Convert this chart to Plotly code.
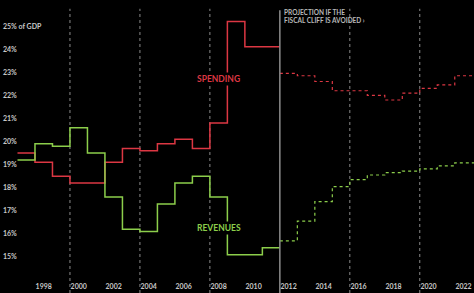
import plotly.graph_objects as go

hist_years = list(range(1997, 2012))
spending_hist = [19.5, 19.1, 18.5, 18.2, 18.2, 19.1, 19.7, 19.6, 19.9, 20.1, 19.7, 20.8, 25.2, 24.1, 24.1]
revenues_hist = [19.2, 19.9, 19.8, 20.6, 19.5, 17.6, 16.2, 16.1, 17.3, 18.2, 18.5, 17.6, 15.1, 15.1, 15.4]
proj_years = list(range(2012, 2023))
spending_proj = [22.95, 22.85, 22.6, 22.2, 22.2, 22.0, 21.8, 22.1, 22.3, 22.45, 22.85]
revenues_proj = [15.7, 16.55, 17.4, 18.05, 18.35, 18.55, 18.65, 18.72, 18.82, 18.95, 19.08]

x_tick_years = list(range(1998, 2023, 2))
y_ticks = [15, 16, 17, 18, 19, 20, 21, 22, 23, 24, 25]
y_tick_text = ["15%", "16%", "17%", "18%", "19%", "20%", "21%", "22%", "23%", "24%", "25% of GDP"]
guide_years = [2000, 2004, 2008, 2016, 2020]
projection_start = 2012

RED = "#dc3743"
GREEN = "#8cce4b"
X_MIN, X_MAX = 1995.5, 2022.6


def step_xy(years, values, end):
    xs = [y - 0.5 for y in years] + [end]
    ys = list(values) + [values[-1]]
    return xs, ys


fig = go.Figure()

for vals, col in [(spending_hist, RED), (revenues_hist, GREEN)]:
    xs, ys = step_xy(hist_years, vals, hist_years[-1] + 0.5)
    fig.add_trace(go.Scatter(x=xs, y=ys, mode="lines", line=dict(color=col, width=1.5, shape="hv"),
                             hoverinfo="skip", showlegend=False))

for vals, col in [(spending_proj, RED), (revenues_proj, GREEN)]:
    xs, ys = step_xy(proj_years, vals, X_MAX)
    fig.add_trace(go.Scatter(x=xs, y=ys, mode="lines", line=dict(color=col, width=1.2, shape="hv", dash="dot"),
                             hoverinfo="skip", showlegend=False))

for gy in guide_years:
    fig.add_shape(type="line", xref="x", yref="paper", x0=gy - 0.5, x1=gy - 0.5, y0=0, y1=0.97,
                  line=dict(color="#8a8a8a", width=1, dash="dot"), layer="below")

fig.add_shape(type="line", xref="x", yref="paper", x0=projection_start - 0.5, x1=projection_start - 0.5,
              y0=0, y1=0.965, line=dict(color="#8c8c8c", width=1.5), layer="above")

fig.add_annotation(x=projection_start - 0.35, y=0.975, xref="x", yref="paper", xanchor="left", yanchor="top",
                   text="PROJECTION IF THE<br>FISCAL CLIFF IS AVOIDED ›", showarrow=False, align="left",
                   font=dict(family="Lato", size=6.5, color="#b8b8b8", weight="bold"))
fig.add_annotation(x=2008.0, y=22.7, xref="x", yref="y", text="SPENDING", showarrow=False,
                   bgcolor="#000000", borderpad=1,
                   font=dict(family="Lato", size=8.5, color=RED, weight="bold"))
fig.add_annotation(x=2008.0, y=16.25, xref="x", yref="y", text="REVENUES", showarrow=False,
                   bgcolor="#000000", borderpad=1,
                   font=dict(family="Lato", size=8.5, color=GREEN, weight="bold"))

fig.update_layout(
    width=474, height=293,
    margin=dict(l=0, r=0, t=0, b=0),
    paper_bgcolor="#000000", plot_bgcolor="#000000",
    xaxis=dict(range=[X_MIN, X_MAX], tickmode="array", tickvals=x_tick_years,
               ticktext=[str(y) for y in x_tick_years], ticklabelposition="inside",
               showgrid=False, zeroline=False, showline=False, ticks="",
               tickfont=dict(family="Lato", size=7, color="#c8c8c8", weight="bold")),
    yaxis=dict(range=[13.44, 26.13], tickmode="array", tickvals=y_ticks, ticktext=y_tick_text,
               ticklabelposition="inside", showgrid=False, zeroline=False, showline=False, ticks="",
               tickfont=dict(family="Lato", size=7, color="#c8c8c8", weight="bold")),
)

fig.write_html("out.html", config={"displayModeBar": False},
               post_script="document.body.style.margin='0px';document.body.style.background='#000';")
